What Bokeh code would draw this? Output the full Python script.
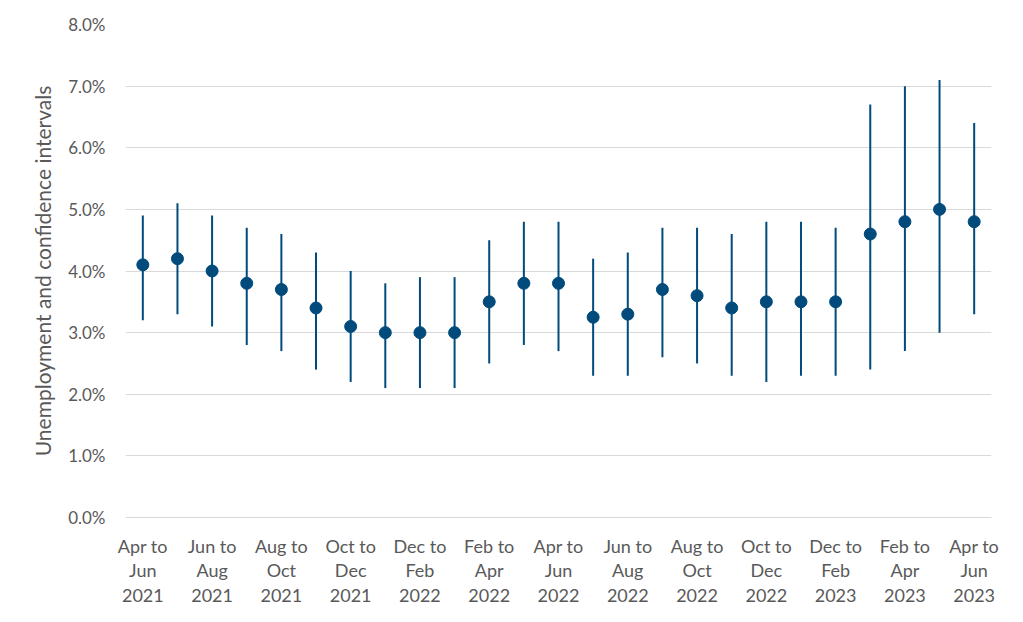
from bokeh.plotting import figure
from bokeh.models import Range1d, FixedTicker, PrintfTickFormatter, ColumnDataSource
from bokeh.embed import file_html
from bokeh.resources import INLINE

periods = [
    "Apr to\nJun\n2021", "May to\nJul\n2021", "Jun to\nAug\n2021", "Jul to\nSep\n2021",
    "Aug to\nOct\n2021", "Sep to\nNov\n2021", "Oct to\nDec\n2021", "Nov to\nJan\n2022",
    "Dec to\nFeb\n2022", "Jan to\nMar\n2022", "Feb to\nApr\n2022", "Mar to\nMay\n2022",
    "Apr to\nJun\n2022", "May to\nJul\n2022", "Jun to\nAug\n2022", "Jul to\nSep\n2022",
    "Aug to\nOct\n2022", "Sep to\nNov\n2022", "Oct to\nDec\n2022", "Nov to\nJan\n2023",
    "Dec to\nFeb\n2023", "Jan to\nMar\n2023", "Feb to\nApr\n2023", "Mar to\nMay\n2023",
    "Apr to\nJun\n2023",
]
rate = [4.1, 4.2, 4.0, 3.8, 3.7, 3.4, 3.1, 3.0, 3.0, 3.0, 3.5, 3.8, 3.8,
        3.25, 3.3, 3.7, 3.6, 3.4, 3.5, 3.5, 3.5, 4.6, 4.8, 5.0, 4.8]
lower = [3.2, 3.3, 3.1, 2.8, 2.7, 2.4, 2.2, 2.1, 2.1, 2.1, 2.5, 2.8, 2.7,
         2.3, 2.3, 2.6, 2.5, 2.3, 2.2, 2.3, 2.3, 2.4, 2.7, 3.0, 3.3]
upper = [4.9, 5.1, 4.9, 4.7, 4.6, 4.3, 4.0, 3.8, 3.9, 3.9, 4.5, 4.8, 4.8,
         4.2, 4.3, 4.7, 4.7, 4.6, 4.8, 4.8, 4.7, 6.7, 7.0, 7.1, 6.4]
y_ticks = [0, 1, 2, 3, 4, 5, 6, 7, 8]

idx = list(range(len(periods)))
src = ColumnDataSource(dict(x=idx, rate=rate, lower=lower, upper=upper))

FONT = "Lato"
GREY = "#595959"
BLUE = "#004a7c"

p = figure(frame_width=866, frame_height=493, output_backend="svg", toolbar_location=None,
           x_range=Range1d(-0.5, len(periods) - 0.5), y_range=Range1d(0, 8),
           min_border_left=125, min_border_right=16, min_border_top=24, min_border_bottom=95)
p.outline_line_color = None
p.background_fill_color = "white"

p.segment(x0="x", y0="lower", x1="x", y1="upper", source=src, line_color=BLUE, line_width=2)
p.scatter(x="x", y="rate", source=src, size=12, fill_color=BLUE, line_color=BLUE)

# axes
p.xaxis.ticker = FixedTicker(ticks=idx[::2])
p.xaxis.major_label_overrides = {i: periods[i] for i in idx}
p.xaxis.major_tick_line_color = None
p.xaxis.minor_tick_line_color = None
p.xaxis.axis_line_color = "#d9d9d9"
p.xaxis.major_label_standoff = 11
p.xaxis.major_label_text_font = FONT
p.xaxis.major_label_text_font_size = "18px"
p.xaxis.major_label_text_color = GREY
p.xaxis.major_label_text_line_height = 1.12

p.yaxis.ticker = FixedTicker(ticks=y_ticks)
p.yaxis.formatter = PrintfTickFormatter(format="%.1f%%")
p.yaxis.major_tick_line_color = None
p.yaxis.minor_tick_line_color = None
p.yaxis.axis_line_color = None
p.yaxis.major_label_standoff = 14
p.yaxis.major_label_text_font = FONT
p.yaxis.major_label_text_font_size = "17px"
p.yaxis.major_label_text_color = GREY
p.yaxis.axis_label = "Unemployment and confidence intervals"
p.yaxis.axis_label_text_font = FONT
p.yaxis.axis_label_text_font_size = "21px"
p.yaxis.axis_label_text_font_style = "normal"
p.yaxis.axis_label_text_color = GREY
p.yaxis.axis_label_standoff = 10

p.xgrid.grid_line_color = None
p.ygrid.ticker = FixedTicker(ticks=y_ticks)
p.ygrid.grid_line_color = "#d9d9d9"
p.ygrid.grid_line_width = 1

open("out.html", "w").write(file_html(p, INLINE))
